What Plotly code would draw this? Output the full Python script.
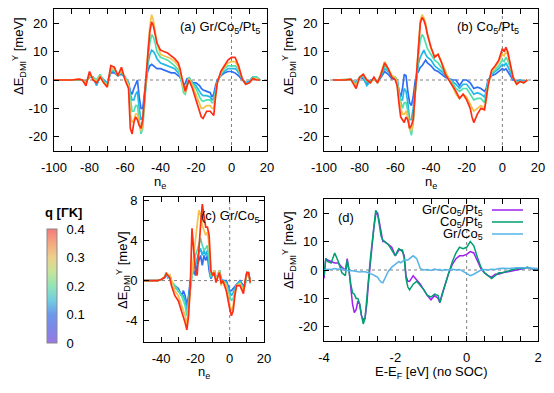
import plotly.graph_objects as go
from plotly.colors import sample_colorscale

W, H = 554, 393
FONT = "Liberation Sans, Arial, Helvetica, sans-serif"

# ---------------- data ----------------
q_values = [0.1, 0.15, 0.2, 0.3, 0.4]

# panel (a) Gr/Co5/Pt5
ne_a = [-100, -90, -86, -84, -82, -80, -78, -76, -74, -72, -70, -68, -66, -64, -62, -60, -58, -57, -56, -55,
        -54, -53, -52, -51, -50, -49, -48, -47, -46, -45, -44, -43, -42, -40, -38, -36, -34, -32, -30, -29,
        -28, -27, -26, -25, -24, -22, -20, -18, -17, -16, -14, -12, -11, -10, -9, -8, -6, -4, -2, 0,
        2, 3, 4, 6, 8, 10, 12, 14, 16]
dmi_a_q010 = [0, 0, 0, 0, -0.5, 1, 1, -1.5, 1, 0, -1, 2.5, 2.5, 1.5, 2, 1, -1, -4, -5, -3,
              -1.5, 0, -6, -10, -10, -4, 1, 3.5, 5, 5.5, 5, 4.5, 4, 4, 3.5, 3, 2.5, 2.5, 1.5, 1,
              -0.5, -2, -1, 0.5, 0.5, -1, -1, -2, -3, -3.5, -4, -4.5, -6, -5, -2, 0, 1.5, 2.5, 3, 3,
              2.5, 2, 1.5, 0, -1, -0.5, 1, 1, 0]
dmi_a_q015 = [0, 0, 0.1, 0, -0.5, 1, 1, -2, 1.5, 0, -1, 3, 3, 1.5, 2.5, 1, -1, -5, -7, -7,
              -5, -4, -10, -14, -13, -6, 1.5, 6, 9, 10.5, 10, 9, 7.5, 6, 5.5, 5, 4.5, 4, 2.5, 1.5,
              -1, -3, -3, -0.5, 1, -1, -2, -4, -5, -5.5, -5.5, -6, -7, -6.5, -3, -0.5, 2, 3, 4, 4,
              4, 3.5, 2.5, 0.5, -1, -0.5, 1, 1, 0]
dmi_a_q020 = [0, 0, 0.2, 0, -1, 1.5, 1, 0, 2, -0.5, -1.5, 3.5, 3.5, 1.5, 3, 1, -1.5, -7, -11, -11,
              -9, -9, -15, -19, -17, -8, 2, 8, 13, 16, 15, 13, 10, 8, 7.5, 7, 6, 5, 3.5, 2,
              -1, -4.5, -5, -2, 1, -1.5, -3, -6, -7, -7.5, -7, -7, -8, -8, -4, -1, 2, 4, 5, 5,
              5, 4.5, 3.5, 0.5, -1.5, -1, 1, 1, 0]
dmi_a_q030 = [0, 0, 0.3, 0, -1, 2, 0.5, -0.5, 1.5, -1, -2, 4, 4, 1.5, 3.5, 0.5, -2, -12, -15, -14,
              -12, -12, -15, -18, -16, -6, 3, 11, 19, 23, 21, 17, 13, 9, 8.5, 8, 7.5, 6.5, 5, 3,
              0, -3, -4.5, -2, 0.5, -2, -5, -8, -10, -10, -9, -9, -10, -10, -5, -1, 2.5, 4.5, 6, 6.5,
              6.5, 5.5, 4, 0.5, -1.5, -1, 0.5, 0.5, 0]
dmi_a_q040 = [0, 0, 0.3, 0, -2, 3, 0, -1, 1, -1, -2.5, 5, 4.5, 1.5, 4.5, 0, -3, -17, -19, -15,
              -13, -14, -16, -17, -14, -5, 3, 10, 17, 20.5, 19, 16, 13, 10.5, 10, 9.5, 8.5, 7.5, 6, 4,
              1, -2, -4, -2, 0, -3, -7, -11, -13, -13.5, -11, -11, -12, -12.5, -6, -1, 3, 5, 7, 8,
              8, 6.5, 5, 0.5, -1.5, -1, 0.5, 0, 0]

# panel (b) Co5/Pt5
ne_b = [-95, -88, -85, -82, -80, -78, -76, -74, -72, -70, -68, -66, -64, -62, -60, -59, -58, -57, -56, -55,
        -54, -53, -52, -51, -50, -49, -48, -47, -46, -45, -44, -43, -42, -40, -38, -36, -34, -32, -30, -28,
        -26, -24, -22, -20, -18, -17, -16, -14, -12, -10, -9, -8, -6, -4, -2, 0, 1, 2, 3, 4,
        6, 8, 10, 12, 14]
dmi_b_q010 = [0, 0, 0, -1, 1, 0.5, -1.5, 0, 0, -0.5, 1, 3, 2, 0.5, 0.5, 0, -4, -6, -3, 2,
              1.5, -4, -8, -9, -6, -1, 2, 3, 4.5, 5, 6, 7, 6, 5, 3.5, 3, 2, 1, 0.5, 0,
              0, -2, 0, 0, -1, -2, -3, -2.5, -3, -4, -3, 0, 1.5, 2, 3, 4, 3.5, 4, 3, 2,
              0, -0.5, 0, -0.5, 0]
dmi_b_q015 = [0, 0, 0.1, -1, 1, 1, -2, -0.5, 0.5, -0.5, 1.5, 4, 3, 1, 1, 0, -4, -7, -7, -3,
              -4, -8, -14, -14, -10, -4, 2, 6, 8, 9, 10.5, 9, 8, 7, 5, 4, 3, 1.5, 0.5, -0.5,
              -1.5, -3, -1.5, -1.5, -3, -4, -5, -4.5, -5, -6, -4, -0.5, 2, 3, 4, 5.5, 5, 6, 5, 3.5,
              0.5, -1, 0, -0.5, 0]
dmi_b_q020 = [0, 0, 0.2, -1.5, 1, 1.5, -0.5, -0.5, 0.5, -1, 2, 5, 3.5, 1.5, 1, 0, -5, -8, -10, -8,
              -8, -11, -17, -19.5, -15, -6, 2, 9, 14, 16, 15, 13, 11, 9, 7, 6, 4, 2, 0.5, -1,
              -3, -4, -3, -3, -5, -6, -7, -6.5, -6.5, -8, -5, -1, 2.5, 3.5, 5, 7, 6.5, 8, 7, 5,
              1, -1, -0.5, -1, 0]
dmi_b_q030 = [0, 0, 0.2, -2, 1, 2, 0, -1, 0.5, -1, 2.5, 6.5, 4, 1.5, 1, -1, -6, -10, -12, -12,
              -11, -13, -17, -18, -15, -6, 3, 13, 21, 23, 22, 20, 16, 11, 8.5, 9, 6, 3, 0.5, -2,
              -5, -6.5, -5, -6, -8.5, -10, -11, -10, -9, -10, -7, -2, 3, 4.5, 6.5, 9, 8.5, 10, 9, 6.5,
              1, -1.5, -0.5, -1, 0]
dmi_b_q040 = [0, 0, 0.3, -3, 1, 2, 0, -1, 1, -1, 2, 6, 4, 1, 0, -2, -8, -13, -14, -15,
              -13, -14, -17, -16, -14, -6, 3, 12, 20, 22, 21, 19, 16, 11.5, 8, 9, 6, 2, 0, -2,
              -4, -6.5, -5, -7, -10, -13, -15, -12, -10, -10.5, -7, -2, 3.5, 5, 7, 11, 10, 11.5, 10, 7,
              1, -1.5, -0.5, -1, 0]

# panel (c) Gr/Co5
ne_c = [-50, -42, -40, -38, -37, -36, -35, -34, -32, -30, -28, -27, -26, -25, -24, -23, -22, -21, -20, -19,
        -18, -17, -16, -15, -14, -13, -12, -11, -10, -9, -8, -7, -6, -5, -4, -2, -1, 0, 1, 2,
        3, 4, 6, 8, 9, 10, 11, 12]
dmi_c_q010 = [0, 0, 0.1, 0.3, 0.6, 0.3, 0.5, -0.2, -0.5, -0.8, -1.5, -1, -1.5, -2.5, -1.5, 0, 0.5, 1, 0.5, 1.5,
              2, 2.5, 1.5, 2.5, 2, 2.5, 1, 0.2, 0.5, 1, 0.3, 0.5, 1, 0.2, 0, 0, -0.5, -1, -1, -0.8,
              -0.5, -0.3, 0, -0.5, -0.3, 0.8, 0.7, 0]
dmi_c_q015 = [0, 0, 0.1, 0.3, 0.7, 0.3, 0.5, -0.2, -0.6, -1, -1.5, -1.5, -2, -3, -2, -0.3, 0.5, 1.2, 1.5, 2.2,
              2.8, 3.2, 2.5, 3, 2.5, 3, 1.5, 0.3, 0.5, 1, 0.2, 0.5, 1, 0.1, 0, -0.2, -0.8, -1.2, -1.5, -1.2,
              -0.8, -0.4, -0.1, -0.7, -0.4, 0.8, 0.7, 0]
dmi_c_q020 = [0, 0, 0.1, 0.4, 0.8, 0.4, 0.6, 0, -0.5, -1, -1.5, -2, -2.5, -3.5, -2, -0.5, 0.5, 1.5, 2.5, 3,
              3.5, 4.2, 3.5, 3, 3.2, 3.5, 2, 0.5, 0.5, 1, 0.2, 0.5, 1, 0, 0, -0.3, -1, -1.5, -2, -1.8,
              -1, -0.5, -0.2, -0.8, -0.5, 0.8, 0.8, -0.3]
dmi_c_q030 = [0, 0, 0.1, 0.4, 0.8, 0.5, 0.6, 0, -1, -1.5, -2.5, -3, -3.5, -4.5, -3, -1, 1, 2.5, 3.5, 5,
              7, 6.5, 5.5, 5, 4.5, 4.8, 3.5, 1, 0.5, 1, 0, 0.5, 1, -0.5, 0, -0.5, -1.5, -2.5, -3, -2.5,
              -1.2, -0.5, -0.3, -1, -0.2, 0.8, 0.8, -0.2]
dmi_c_q040 = [0, 0, 0.1, 0.3, 0.7, 0.5, 0.3, -0.5, -1.5, -2, -3, -3.5, -4.2, -4.9, -3.5, -0.5, 5.2, 3, 1, 0.5,
              3.5, 5.5, 7.6, 6.5, 5.3, 5.3, 4.5, 1, 0.5, 0.8, -0.2, 0.3, 0.8, -0.3, 0, -1, -2, -2.8, -3.5, -3,
              -1.5, -0.5, -0.5, -1.3, 0, 0.8, 0.8, -0.2]

# panel (d) energy resolved, no SOC
energy_d = [-4.0, -3.95, -3.9, -3.8, -3.7, -3.6, -3.5, -3.4, -3.35, -3.3, -3.25, -3.2, -3.15, -3.1, -3.05,
            -3.0, -2.95, -2.9, -2.85, -2.8, -2.75, -2.7, -2.65, -2.6, -2.55, -2.5, -2.45, -2.4, -2.35, -2.3,
            -2.2, -2.1, -2.0, -1.95, -1.9, -1.85, -1.8, -1.75, -1.7, -1.65, -1.6, -1.5, -1.4, -1.3, -1.2,
            -1.1, -1.0, -0.9, -0.8, -0.75, -0.7, -0.6, -0.5, -0.4, -0.3, -0.2, -0.1, 0.0, 0.1, 0.2,
            0.3, 0.4, 0.5, 0.6, 0.7, 0.8, 0.9, 1.0, 1.2, 1.4, 1.6, 1.7, 1.8, 2.0]
dmi_d_gr_co_pt = [-3, 4, 3.5, 3, 2.5, 2.5, 1, 0, 4, 0, -7, -12, -15, -14, -11,
                  -12, -16, -17.5, -17, -12, -4, 3, 9, 15, 19.5, 20, 17, 13, 10, 10,
                  9, 8, 5, 6, 7, 7, 6.5, 5, -2, -4, -4, -2, -3.5, -5, -7,
                  -9, -10.5, -9, -10, -11.5, -9, -5, -1, 2, 4, 5, 5, 5.5, 6.5, 6,
                  3, 0.5, -1, -2, -2.5, -1.5, -1.5, -1, -0.5, 0, 0.5, 0.8, 0.5, 0]
dmi_d_co_pt = [-2, 4, 3, 2.5, 6, 3, -1, -2, 3.5, 0, -5, -8, -8.5, -10, -10,
               -12, -16, -19, -17, -11, -3, 4, 10, 16, 21, 20, 16, 12, 10.5, 10,
               9, 7, 5, 6.5, 7.5, 7, 7, 4, -3, -6, -7, -5, -4, -5.5, -7,
               -9, -9.5, -8.5, -9, -11.5, -9, -5, -1, 3, 6, 8, 7.5, 8, 10, 8.5,
               4.5, 1, -1, -2, -3, -2, -1, -1, -0.3, 0.5, 0.5, 1, 0.5, 0.3]
dmi_d_gr_co = [0, 0.2, 0.3, 0.2, 0.5, 0.3, 0.4, 0, -0.2, -0.3, -0.2, -0.3, -0.5, -0.6, -0.5,
               -0.7, -0.6, -0.5, -0.6, -0.8, -1, -1.2, -1.5, -1.8, -2.2, -2.5, -3.5, -4.3, -4.5, -3,
               -0.5, 1, 2, 2.5, 3, 2.5, 3, 3.5, 3.5, 3.5, 4, 5, 4, 0.5, 0,
               0.2, -0.2, 0.3, 0, 0.2, -0.2, 0.2, 0, 0.3, 0, 0.2, -0.5, -1.2, -2, -1.5,
               -0.8, 0, 0.2, 0, 0.3, 0.2, 0.5, 0.6, 0.5, 0.8, 0.8, 0.7, 0.6, 0.5]
series_d_names = ["Gr/Co<sub>5</sub>/Pt<sub>5</sub>", "Co<sub>5</sub>/Pt<sub>5</sub>", "Gr/Co<sub>5</sub>"]
series_d_colors = ["#a020f0", "#009e73", "#56b4e9"]

# ticks
q_ticks = [0, 0.1, 0.2, 0.3, 0.4]
q_minor = [0.05, 0.15, 0.25, 0.35]
ne_ticks_ab = [-100, -80, -60, -40, -20, 0, 20]
ne_minor_ab = [-90, -70, -50, -30, -10, 10]
dmi_ticks_abd = [-20, -10, 0, 10, 20]
ne_ticks_c = [-40, -20, 0, 20]
ne_minor_c = [-50, -30, -10, 10]
dmi_ticks_c = [-4, 0, 4, 8]
dmi_minor_c = [-2, 2, 6]
e_ticks_d = [-4, -2, 0, 2]
e_minor_d = [-3.5, -3, -2.5, -1.5, -1, -0.5, 0.5, 1, 1.5]

# ---------------- styling ----------------
line_scale = [[0.0, "#7b3fe4"], [0.25, "#2f6ff5"], [0.375, "#22b8e8"], [0.5, "#4fe0b0"],
              [0.625, "#b8e068"], [0.75, "#f6c24a"], [0.875, "#ff8a34"], [1.0, "#ff2d14"]]
bar_scale = [[0.0, "#9a78e6"], [0.125, "#7e86ea"], [0.25, "#6c98ec"], [0.375, "#72cee0"],
             [0.5, "#92e4b8"], [0.625, "#c8e49a"], [0.75, "#ecd08c"], [0.875, "#f4a880"], [1.0, "#f47a7a"]]
Q_MAX = 0.4


def px_x(p):
    return p / W


def px_y(p):
    return 1 - p / H


def lab(v):
    return ("%g" % v)


fig = go.Figure()

panels = [
    ("x", "y", ne_a, [dmi_a_q010, dmi_a_q015, dmi_a_q020, dmi_a_q030, dmi_a_q040]),
    ("x2", "y2", ne_b, [dmi_b_q010, dmi_b_q015, dmi_b_q020, dmi_b_q030, dmi_b_q040]),
    ("x3", "y3", ne_c, [dmi_c_q010, dmi_c_q015, dmi_c_q020, dmi_c_q030, dmi_c_q040]),
]
for xa, ya, xs, series in panels:
    for q, ys in zip(q_values, series):
        col = sample_colorscale(line_scale, [q / Q_MAX])[0]
        fig.add_trace(go.Scatter(x=xs, y=ys, mode="lines", line=dict(color=col, width=1.7),
                                 xaxis=xa, yaxis=ya, showlegend=False, hoverinfo="skip"))

for ys, name, col in zip([dmi_d_gr_co_pt, dmi_d_co_pt, dmi_d_gr_co], series_d_names, series_d_colors):
    fig.add_trace(go.Scatter(x=energy_d, y=ys, mode="lines", name=name, line=dict(color=col, width=1.5),
                             xaxis="x4", yaxis="y4", showlegend=False, hoverinfo="skip"))

# colour bar carrier
CB_TOP, CB_BOT, CB_L, CB_R = 229, 343, 47, 57
fig.add_trace(go.Scatter(
    x=[None], y=[None], mode="markers", xaxis="x", yaxis="y", showlegend=False, hoverinfo="skip",
    marker=dict(color=[0.2], cmin=0, cmax=Q_MAX, colorscale=bar_scale, showscale=True,
                colorbar=dict(x=px_x(CB_L), xanchor="left", y=px_y((CB_TOP + CB_BOT) / 2), yanchor="middle",
                              len=(CB_BOT - CB_TOP) / H, lenmode="fraction",
                              thickness=CB_R - CB_L, thicknessmode="pixels", xpad=0, ypad=0,
                              outlinecolor="#888888", outlinewidth=1,
                              tickmode="array", tickvals=q_ticks, ticktext=[lab(v) for v in q_ticks],
                              ticks="outside", ticklen=7, tickcolor="rgba(0,0,0,0)",
                              tickfont=dict(family=FONT, size=13, color="black"))),
))

axis_common = dict(showline=True, linecolor="black", linewidth=1, mirror="allticks", ticks="inside",
                   ticklen=5, tickcolor="black", showgrid=False, zeroline=False, tickmode="array",
                   automargin=False, tickfont=dict(family=FONT, size=13, color="black"))


def xaxis(dom, rng, tv, mv, anchor):
    d = dict(axis_common)
    d.update(domain=[px_x(dom[0]), px_x(dom[1])], range=rng, tickvals=tv, ticktext=[lab(v) for v in tv],
             anchor=anchor, ticklabelstandoff=4,
             minor=dict(tickmode="array", tickvals=mv, ticks="inside", ticklen=5, tickcolor="black"))
    return d


def yaxis(dom, rng, tv, mv, anchor):
    d = dict(axis_common)
    d.update(domain=[px_y(dom[1]), px_y(dom[0])], range=rng, tickvals=tv, ticktext=[lab(v) for v in tv],
             anchor=anchor, ticklabelstandoff=3)
    if mv:
        d["minor"] = dict(tickmode="array", tickvals=mv, ticks="inside", ticklen=5, tickcolor="black")
    return d


fig.update_layout(
    width=W, height=H, autosize=False, margin=dict(l=0, r=0, t=0, b=0, pad=0),
    paper_bgcolor="white", plot_bgcolor="white", showlegend=False,
    font=dict(family=FONT, size=13, color="black"),
    xaxis=xaxis((54, 267), [-100, 20], ne_ticks_ab, ne_minor_ab, "y"),
    yaxis=yaxis((9, 151), [-25, 25], dmi_ticks_abd, None, "x"),
    xaxis2=xaxis((324, 538), [-100, 20], ne_ticks_ab, ne_minor_ab, "y2"),
    yaxis2=yaxis((9, 151), [-25, 25], dmi_ticks_abd, None, "x2"),
    xaxis3=xaxis((144, 264), [-50, 20], ne_ticks_c, ne_minor_c, "y3"),
    yaxis3=yaxis((197, 342), [-6.1, 8.3], dmi_ticks_c, dmi_minor_c, "x3"),
    xaxis4=xaxis((324, 538), [-4, 2], e_ticks_d, e_minor_d, "y4"),
    yaxis4=yaxis((199, 341), [-25, 25], dmi_ticks_abd, None, "x4"),
)

shapes = []
for xa, ya in [("x", "y"), ("x2", "y2"), ("x3", "y3"), ("x4", "y4")]:
    shapes.append(dict(type="line", xref=xa + " domain", yref=ya, x0=0, x1=1, y0=0, y1=0,
                       line=dict(color="#808080", width=1, dash="dot"), layer="below"))
    shapes.append(dict(type="line", xref=xa, yref=ya + " domain", x0=0, x1=0, y0=0, y1=1,
                       line=dict(color="#808080", width=1, dash="dot"), layer="below"))

# colour-bar tick lines
cb_len = (CB_BOT - CB_TOP) / H
cb_y0 = px_y(CB_BOT)
for q in q_ticks[1:-1]:
    yy = cb_y0 + q / Q_MAX * cb_len
    shapes.append(dict(type="line", xref="paper", yref="paper", x0=px_x(CB_L), x1=px_x(CB_R), y0=yy, y1=yy,
                       line=dict(color="black", width=1)))
for q in q_minor:
    yy = cb_y0 + q / Q_MAX * cb_len
    shapes.append(dict(type="line", xref="paper", yref="paper", x0=px_x(CB_L), x1=px_x(CB_R), y0=yy, y1=yy,
                       line=dict(color="#333333", width=1, dash="2px,2px")))

# legend samples (d)
leg_rows = [210, 222, 234]
for row, col in zip(leg_rows, series_d_colors):
    shapes.append(dict(type="line", xref="paper", yref="paper", x0=px_x(492), x1=px_x(523),
                       y0=px_y(row), y1=px_y(row), line=dict(color=col, width=1.5)))
fig.update_layout(shapes=shapes)

annotations = []


def ann(text, x, y, xanchor="center", angle=0, size=13, bold=False, height=None):
    if bold:
        text = "<b>" + text + "</b>"
    a = dict(text=text, x=px_x(x), y=px_y(y), xref="paper", yref="paper",
             xanchor=xanchor, yanchor="middle", showarrow=False, textangle=angle,
             font=dict(family=FONT, size=size, color="black"))
    if height:
        a["height"] = height
    annotations.append(a)


ytitle = "ΔE<sub>DMI</sub><sup>Y</sup> [meV]"
ann(ytitle, 19, 56, angle=-90)
ann(ytitle, 289, 56, angle=-90)
ann(ytitle, 123, 270, angle=-90)
ann(ytitle, 289, 250, angle=-90)
ann("n<sub>e</sub>", 160, 182)
ann("n<sub>e</sub>", 431, 182)
ann("n<sub>e</sub>", 204, 372)
ann("E-E<sub>F</sub> [eV] (no SOC)", 431, 372)
ann("(a) Gr/Co<sub>5</sub>/Pt<sub>5</sub>", 262, 27, xanchor="right")
ann("(b) Co<sub>5</sub>/Pt<sub>5</sub>", 521, 27, xanchor="right")
ann("(c) Gr/Co<sub>5</sub>", 262, 216, xanchor="right")
ann("(d)", 336, 218, xanchor="left")
for row, name in zip(leg_rows, series_d_names):
    ann(name, 485, row, xanchor="right", height=12)
ann("q [ΓK]", 63, 212, bold=True)
fig.update_layout(annotations=annotations)

fig.write_html("out.html", config={"displayModeBar": False},
               post_script="document.body.style.margin='0';document.body.style.padding='0';")
